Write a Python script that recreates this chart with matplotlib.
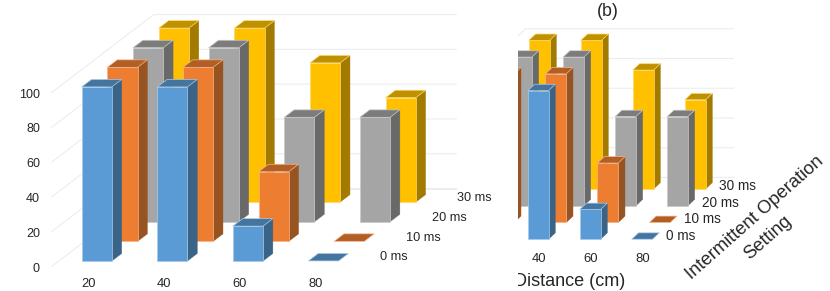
import matplotlib
matplotlib.use("Agg")
import matplotlib.pyplot as plt
from matplotlib.patches import Polygon
from matplotlib.transforms import Bbox, TransformedBbox

plt.rcParams['font.family'] = ['Liberation Sans', 'DejaVu Sans']

distances = ['20', '40', '60', '80']
settings = ['0 ms', '10 ms', '20 ms', '30 ms']
value_ticks = [0, 20, 40, 60, 80, 100]

series_0ms = [100, 100, 20, 0]
series_10ms = [100, 100, 40, 0]
series_20ms = [100, 100, 60, 60]
series_30ms = [100, 100, 80, 60]
series_values = [series_0ms, series_10ms, series_20ms, series_30ms]

front_colors = ['#5B9BD5', '#ED7D31', '#A5A5A5', '#FFC000']
side_colors = ['#3A6388', '#975320', '#696969', '#A37A00']
top_colors = ['#44759F', '#B25F25', '#7C7C7C', '#BF9000']
edge_colors = ['#A9CBEA', '#F5B48C', '#C9C9C9', '#FFD966']

W, H = 830, 291
DEPTH_X = 0.34      # horizontal shift of one depth step, in category units
DEPTH_Y = 11.27     # vertical shift of one depth step, in value units
BAR_W, BAR_D = 0.40, 0.38
GAP_W, GAP_D = 0.30, 0.31
GRID = '#EDEDED'


def proj(col, depth, value):
    return (col + depth * DEPTH_X, value + depth * DEPTH_Y)


def draw_panel(ax, tick_offset, label_col, tick_size, label_size):
    for v in value_ticks:
        ax.plot(*zip(proj(0, 0, v), proj(0, 4, v), proj(4, 4, v)),
                color=GRID, lw=0.8, zorder=1, solid_joinstyle='miter')
    ax.plot(*zip(proj(0, 4, 0), proj(4, 4, 0)), color=GRID, lw=0.8, zorder=1)

    z = 2
    for j in range(len(settings) - 1, -1, -1):
        for i, v in enumerate(series_values[j]):
            x0, x1 = i + GAP_W, i + GAP_W + BAR_W
            d0, d1 = j + GAP_D, j + GAP_D + BAR_D
            kw = dict(edgecolor=edge_colors[j], lw=0.5, zorder=z, joinstyle='round')
            if v > 0:
                ax.add_patch(Polygon([proj(x1, d0, 0), proj(x1, d1, 0),
                                      proj(x1, d1, v), proj(x1, d0, v)],
                                     facecolor=side_colors[j],
                                     edgecolor=side_colors[j], lw=0.3, zorder=z))
                ax.add_patch(Polygon([proj(x0, d0, 0), proj(x1, d0, 0),
                                      proj(x1, d0, v), proj(x0, d0, v)],
                                     facecolor=front_colors[j], **kw))
            ax.add_patch(Polygon([proj(x0, d0, v), proj(x1, d0, v),
                                  proj(x1, d1, v), proj(x0, d1, v)],
                                 facecolor=top_colors[j], **kw))
            z += 1

    for j, name in enumerate(settings):
        x, y = proj(label_col, j + 0.5, 0)
        ax.text(x, y, name, ha='left', va='center', fontsize=label_size,
                color='#262626', clip_on=False, zorder=50)

    ax.set_xticks([i + tick_offset for i in range(len(distances))], distances)
    ax.tick_params(length=0, labelcolor='#262626')
    ax.tick_params(axis='x', labelsize=tick_size)
    for s in ax.spines.values():
        s.set_visible(False)
    ax.patch.set_alpha(0)


fig = plt.figure(figsize=(W / 100, H / 100), dpi=100)
fig.patch.set_facecolor('white')

# (a) left panel
ax1 = fig.add_axes([51 / W, 1 - 267 / H, (480 - 51) / W, 267 / H])
draw_panel(ax1, 0.5, 4.185, 9.3, 9.2)
ax1.set_xlim(0, (480 - 51) / 75.6)
ax1.set_ylim(0, 267 / 1.74)
ax1.set_yticks(value_ticks, [str(v) for v in value_ticks])
ax1.tick_params(axis='y', labelsize=9.0, pad=8)
ax1.tick_params(axis='x', pad=8)

# (b) right panel, cut off on its left side
X0, STEP, Y0, SCALE, CUT = 454.7, 52.0, 244.4, 1.486, 517.5
ax2 = fig.add_axes([CUT / W, 1 - Y0 / H, (W - CUT) / W, Y0 / H])
draw_panel(ax2, 0.62, 3.9, 9.4, 9.8)
ax2.set_xlim((CUT - X0) / STEP, (W - X0) / STEP)
ax2.set_ylim(0, Y0 / SCALE)
ax2.set_yticks([])
ax2.tick_params(axis='x', pad=6.2)

xl = ax2.set_xlabel('Distance (cm)', fontsize=13, color='#262626')
ax2.xaxis.set_label_coords((569.5 - CUT) / (W - CUT), -(285.5 - Y0) / Y0)
xl.set_va('baseline')
xl.set_clip_on(True)
xl.set_clip_box(TransformedBbox(Bbox([[CUT / W, 0], [1, 1]]), fig.transFigure))

fig.text(607.7 / W, 1 - 11 / H, '(b)', ha='center', va='center',
         fontsize=12.8, color='#262626')
fig.text(755 / W, 1 - 218 / H, 'Intermittent Operation', ha='center',
         va='center', rotation=41.5, rotation_mode='anchor', fontsize=13.2,
         color='#262626')
fig.text(768 / W, 1 - 238 / H, 'Setting', ha='center',
         va='center', rotation=41.5, rotation_mode='anchor', fontsize=13.2,
         color='#262626')

fig.savefig('out.png', dpi=100)
